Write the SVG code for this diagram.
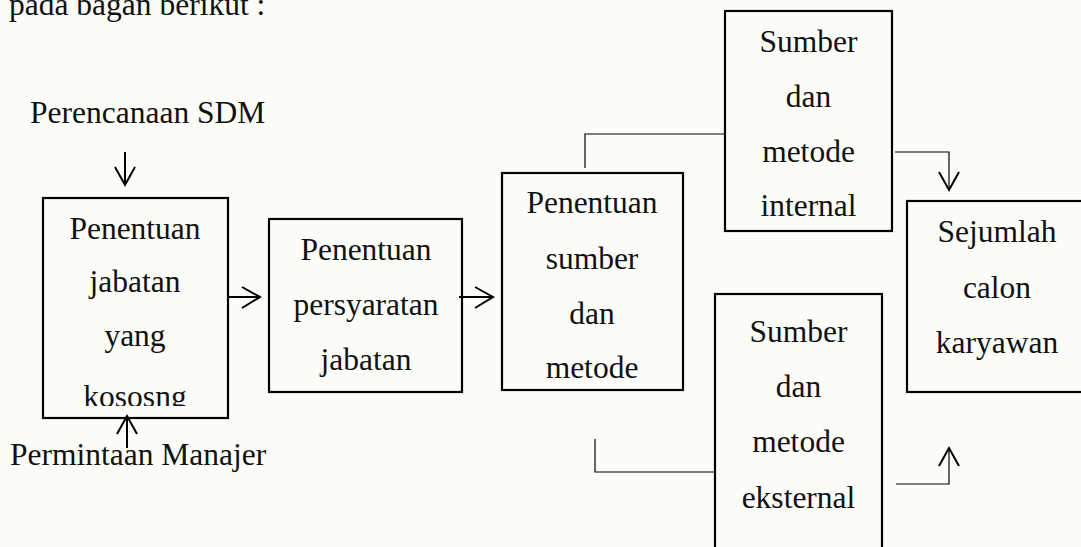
<svg xmlns="http://www.w3.org/2000/svg" width="1081" height="547" viewBox="0 0 1081 547">
<style>
.box{fill:none;stroke:#000;stroke-width:2.2}
.t{font-family:"Liberation Serif","Times New Roman",serif;font-size:31.5px;fill:#111}
.c{text-anchor:middle}
.ln{fill:none;stroke:#000;stroke-width:1.2}
.ar{fill:none;stroke:#000;stroke-width:2}
</style>
<defs>
<clipPath id="clip1"><rect x="44" y="199" width="183" height="207"/></clipPath>
</defs>
<rect x="0" y="0" width="1081" height="547" fill="#fcfcf9"/>
<text class="t" x="9" y="15">pada bagan berikut :</text>
<text class="t" x="30" y="123">Perencanaan SDM</text>
<text class="t" x="10" y="465">Permintaan Manajer</text>

<g id="n1">
<rect class="box" x="43" y="198" width="185" height="220"/>
<g clip-path="url(#clip1)">
<text class="t c" x="135" y="239">Penentuan</text>
<text class="t c" x="135" y="292">jabatan</text>
<text class="t c" x="135" y="346">yang</text>
<text class="t c" x="135" y="407">kososng</text>
</g>
</g>
<g id="n2">
<rect class="box" x="269" y="219" width="193" height="173"/>
<text class="t c" x="366" y="260">Penentuan</text>
<text class="t c" x="366" y="315">persyaratan</text>
<text class="t c" x="366" y="370">jabatan</text>
</g>
<g id="n3">
<rect class="box" x="502" y="173" width="181" height="217"/>
<text class="t c" x="592" y="213">Penentuan</text>
<text class="t c" x="592" y="269">sumber</text>
<text class="t c" x="592" y="324">dan</text>
<text class="t c" x="592" y="378">metode</text>
</g>
<g id="n4">
<rect class="box" x="725" y="11" width="167" height="220"/>
<text class="t c" x="808.5" y="52">Sumber</text>
<text class="t c" x="808.5" y="107">dan</text>
<text class="t c" x="808.5" y="162">metode</text>
<text class="t c" x="808.5" y="216">internal</text>
</g>
<g id="n5">
<rect class="box" x="715" y="294" width="167" height="270"/>
<text class="t c" x="798.5" y="342">Sumber</text>
<text class="t c" x="798.5" y="397">dan</text>
<text class="t c" x="798.5" y="452">metode</text>
<text class="t c" x="798.5" y="508">eksternal</text>
</g>
<g id="n6">
<rect class="box" x="907" y="201" width="190" height="191"/>
<text class="t c" x="997" y="242">Sejumlah</text>
<text class="t c" x="997" y="298">calon</text>
<text class="t c" x="997" y="353">karyawan</text>
</g>

<g id="connectors">
<path class="ar" d="M125 152V185M115 167L125 185L135 167"/>
<path class="ar" d="M127 448V418M117 434L127 416L137 434"/>
<path class="ar" d="M228 297H260M242 287L260 297L242 308"/>
<path class="ar" d="M459 297H493M475 287L493 297L475 308"/>
<path class="ln" d="M585 168V134H725"/>
<path class="ln" d="M595 439V472H715"/>
<path class="ln" d="M895 152H949V189"/>
<path class="ar" d="M939 172L949 190L959 172"/>
<path class="ln" d="M896 484H949V449"/>
<path class="ar" d="M939 466L949 448L959 466"/>
</g>
</svg>
